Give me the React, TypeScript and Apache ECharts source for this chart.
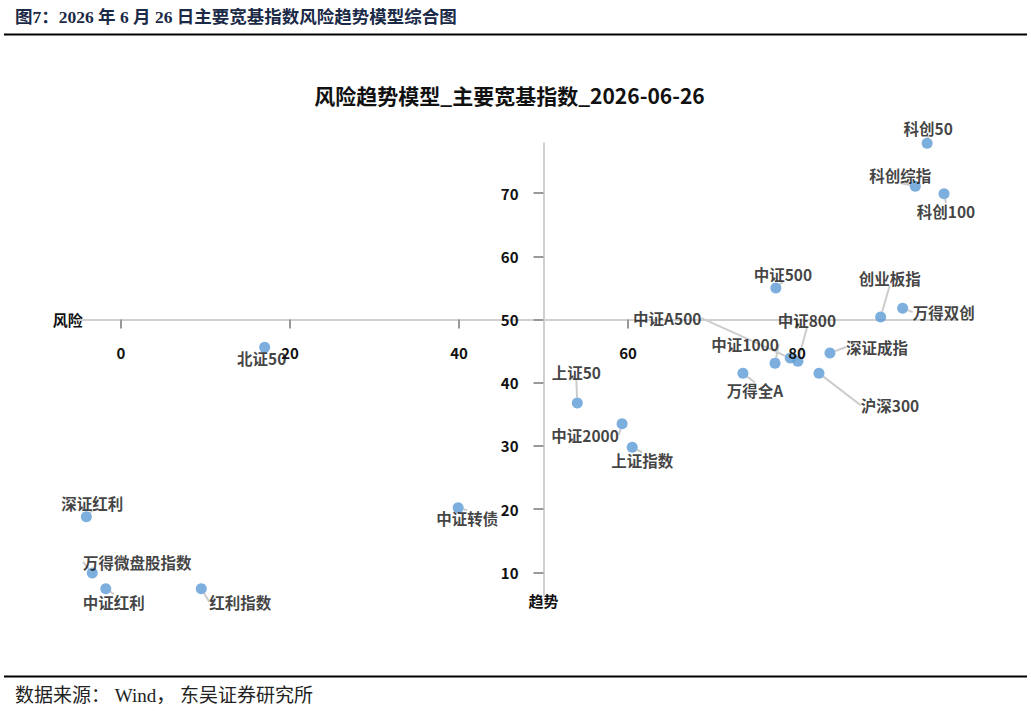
import React, { useEffect, useRef } from "react";
import * as echarts from "echarts";

// ---- data ----
const names = [
  "科创50", "科创综指", "科创100", "中证500", "创业板指", "万得双创", "中证A500",
  "中证800", "中证1000", "深证成指", "万得全A", "沪深300", "上证50", "中证2000",
  "上证指数", "北证50", "深证红利", "中证转债", "万得微盘股指数", "中证红利", "红利指数",
];
const riskValues = [
  95.4, 94.0, 97.4, 77.5, 89.9, 92.5, 79.2,
  80.1, 77.4, 83.9, 73.6, 82.6, 54.0, 59.3,
  60.5, 17.0, -4.1, 39.9, -3.4, -1.8, 9.5,
];
const trendValues = [
  77.9, 71.1, 69.9, 55.0, 50.4, 51.8, 43.9,
  43.4, 43.1, 44.7, 41.5, 41.5, 36.8, 33.5,
  29.8, 45.6, 18.8, 20.2, 9.9, 7.4, 7.4,
];
const xTickValues = [0, 20, 40, 60, 80];
const yTickValues = [10, 20, 30, 40, 50, 60, 70];
const xRange = [-5, 99];
const yRange = [6.3, 77.9];
const crossX = 50; // y axis crosses the x axis at risk = 50
const crossY = 50; // x axis crosses the y axis at trend = 50

const chartTitle = "风险趋势模型_主要宽基指数_2026-06-26";
const figureTitle = "图7：2026 年 6 月 26 日主要宽基指数风险趋势模型综合图";
const sourceNote = "数据来源： Wind， 东吴证券研究所";
const xAxisName = "风险";
const yAxisName = "趋势";

// ---- label placement (style, offsets of label centre from point) ----
const labelOffsets: Record<string, [number, number]> = {
  "科创50": [1, -15],
  "科创综指": [-15, -11],
  "科创100": [2, 17],
  "中证500": [7, -14],
  "创业板指": [9, -39],
  "万得双创": [41, 4],
  "中证A500": [-123, -40],
  "中证800": [9, -41],
  "中证1000": [-30, -19],
  "深证成指": [47, -6],
  "万得全A": [12, 17],
  "沪深300": [71, 32],
  "上证50": [-1, -31],
  "中证2000": [-37, 11],
  "上证指数": [10, 13],
  "北证50": [-3, 11],
  "深证红利": [6, -14],
  "中证转债": [9, 10],
  "万得微盘股指数": [45, -11],
  "中证红利": [8, 13],
  "红利指数": [39, 13],
};

const W = 1031;
const H = 711;
const SANS = "'Microsoft YaHei', 'Noto Sans CJK SC', sans-serif";
const SERIF = "'Times New Roman', 'Liberation Serif', 'Noto Sans CJK SC', serif";

export default function App() {
  const ref = useRef<HTMLDivElement>(null);

  useEffect(() => {
    if (!ref.current) return;
    const chart = echarts.init(ref.current, null, { renderer: "svg" });

    const plotLeft = 78.75;
    const plotRight = 957.55;
    const plotTop = 143.2;
    const plotBottom = 595.7;
    const xPx = (v: number) =>
      plotLeft + ((v - xRange[0]) / (xRange[1] - xRange[0])) * (plotRight - plotLeft);
    const yPx = (v: number) =>
      plotBottom - ((v - yRange[0]) / (yRange[1] - yRange[0])) * (plotBottom - plotTop);

    const xAxisOffset = yPx(crossY) - plotBottom; // negative: lift to trend = 50
    const yAxisOffset = plotLeft - xPx(crossX); // negative: push right to risk = 50

    const tickLabel = {
      color: "#111",
      fontWeight: "bold" as const,
      fontSize: 15,
      fontFamily: SANS,
      margin: 25,
    };
    const nameStyle = { color: "#111", fontWeight: "bold", fontSize: 15, fontFamily: SANS };

    chart.setOption({
      animation: false,
      backgroundColor: "#fff",
      grid: {
        left: plotLeft,
        top: plotTop,
        right: W - plotRight,
        bottom: H - plotBottom,
        containLabel: false,
        outerBoundsMode: "none",
      },
      xAxis: [
        {
          // line, ticks and name (below the point labels)
          type: "value",
          min: xRange[0],
          max: xRange[1],
          position: "bottom",
          offset: xAxisOffset,
          name: xAxisName,
          nameLocation: "start",
          nameGap: -4,
          nameTextStyle: nameStyle,
          axisLine: { show: true, onZero: false, lineStyle: { color: "#d0d0d0", width: 2 } },
          axisTick: {
            show: true,
            length: 9,
            customValues: xTickValues,
            lineStyle: { color: "#999", width: 2 },
          },
          axisLabel: { show: false },
          splitLine: { show: false },
        },
        {
          // tick labels only, drawn above the points
          type: "value",
          min: xRange[0],
          max: xRange[1],
          position: "bottom",
          offset: xAxisOffset,
          z: 5,
          axisLine: { show: false, onZero: false },
          axisTick: { show: false },
          axisLabel: { ...tickLabel, customValues: xTickValues },
          splitLine: { show: false },
        },
      ],
      yAxis: {
        type: "value",
        min: yRange[0],
        max: yRange[1],
        position: "left",
        offset: yAxisOffset,
        name: yAxisName,
        nameLocation: "start",
        nameGap: -3,
        nameTextStyle: nameStyle,
        axisLine: { show: true, onZero: false, lineStyle: { color: "#d0d0d0", width: 2 } },
        axisTick: {
          show: true,
          length: 10,
          customValues: yTickValues,
          lineStyle: { color: "#999", width: 2 },
        },
        axisLabel: { ...tickLabel, customValues: yTickValues },
        splitLine: { show: false },
      },
      series: [
        {
          type: "scatter",
          xAxisIndex: 0,
          symbol: "circle",
          symbolSize: 11,
          itemStyle: { color: "#5b9bd5" },
          data: names.map((n, i) => ({ name: n, value: [riskValues[i], trendValues[i]] })),
          label: {
            show: true,
            position: "inside",
            formatter: "{b}",
            color: "#111",
            fontWeight: "bold",
            fontSize: 15.5,
            fontFamily: SANS,
          },
          labelLine: {
            show: true,
            lineStyle: { color: "#cccccc", width: 2 },
          },
          labelLayout: (params: any) => {
            const off = labelOffsets[names[params.dataIndex]] || [0, -14];
            return { dx: off[0], dy: off[1] };
          },
          z: 3,
        },
      ],
      graphic: [
        {
          type: "text",
          x: 15,
          y: 17,
          style: {
            text: figureTitle,
            fill: "#1b2a47",
            font: `bold 17.5px ${SERIF}`,
            verticalAlign: "middle",
            align: "left",
          },
        },
        {
          type: "line",
          shape: { x1: 4, y1: 34.5, x2: 1027, y2: 34.5 },
          style: { stroke: "#000", lineWidth: 2 },
        },
        {
          type: "text",
          x: 509.5,
          y: 95,
          style: {
            text: chartTitle,
            fill: "#111",
            font: `bold 21px ${SANS}`,
            align: "center",
            verticalAlign: "middle",
          },
        },
        {
          type: "line",
          shape: { x1: 4, y1: 676.5, x2: 1027, y2: 676.5 },
          style: { stroke: "#000", lineWidth: 2 },
        },
        {
          type: "text",
          x: 15,
          y: 695,
          style: {
            text: sourceNote,
            fill: "#222",
            font: `19px ${SERIF}`,
            verticalAlign: "middle",
            align: "left",
          },
        },
      ],
    });

    return () => chart.dispose();
  }, []);

  return (
    <div
      ref={ref}
      style={{ position: "absolute", left: 0, top: 0, width: W, height: H, background: "#fff" }}
    />
  );
}
